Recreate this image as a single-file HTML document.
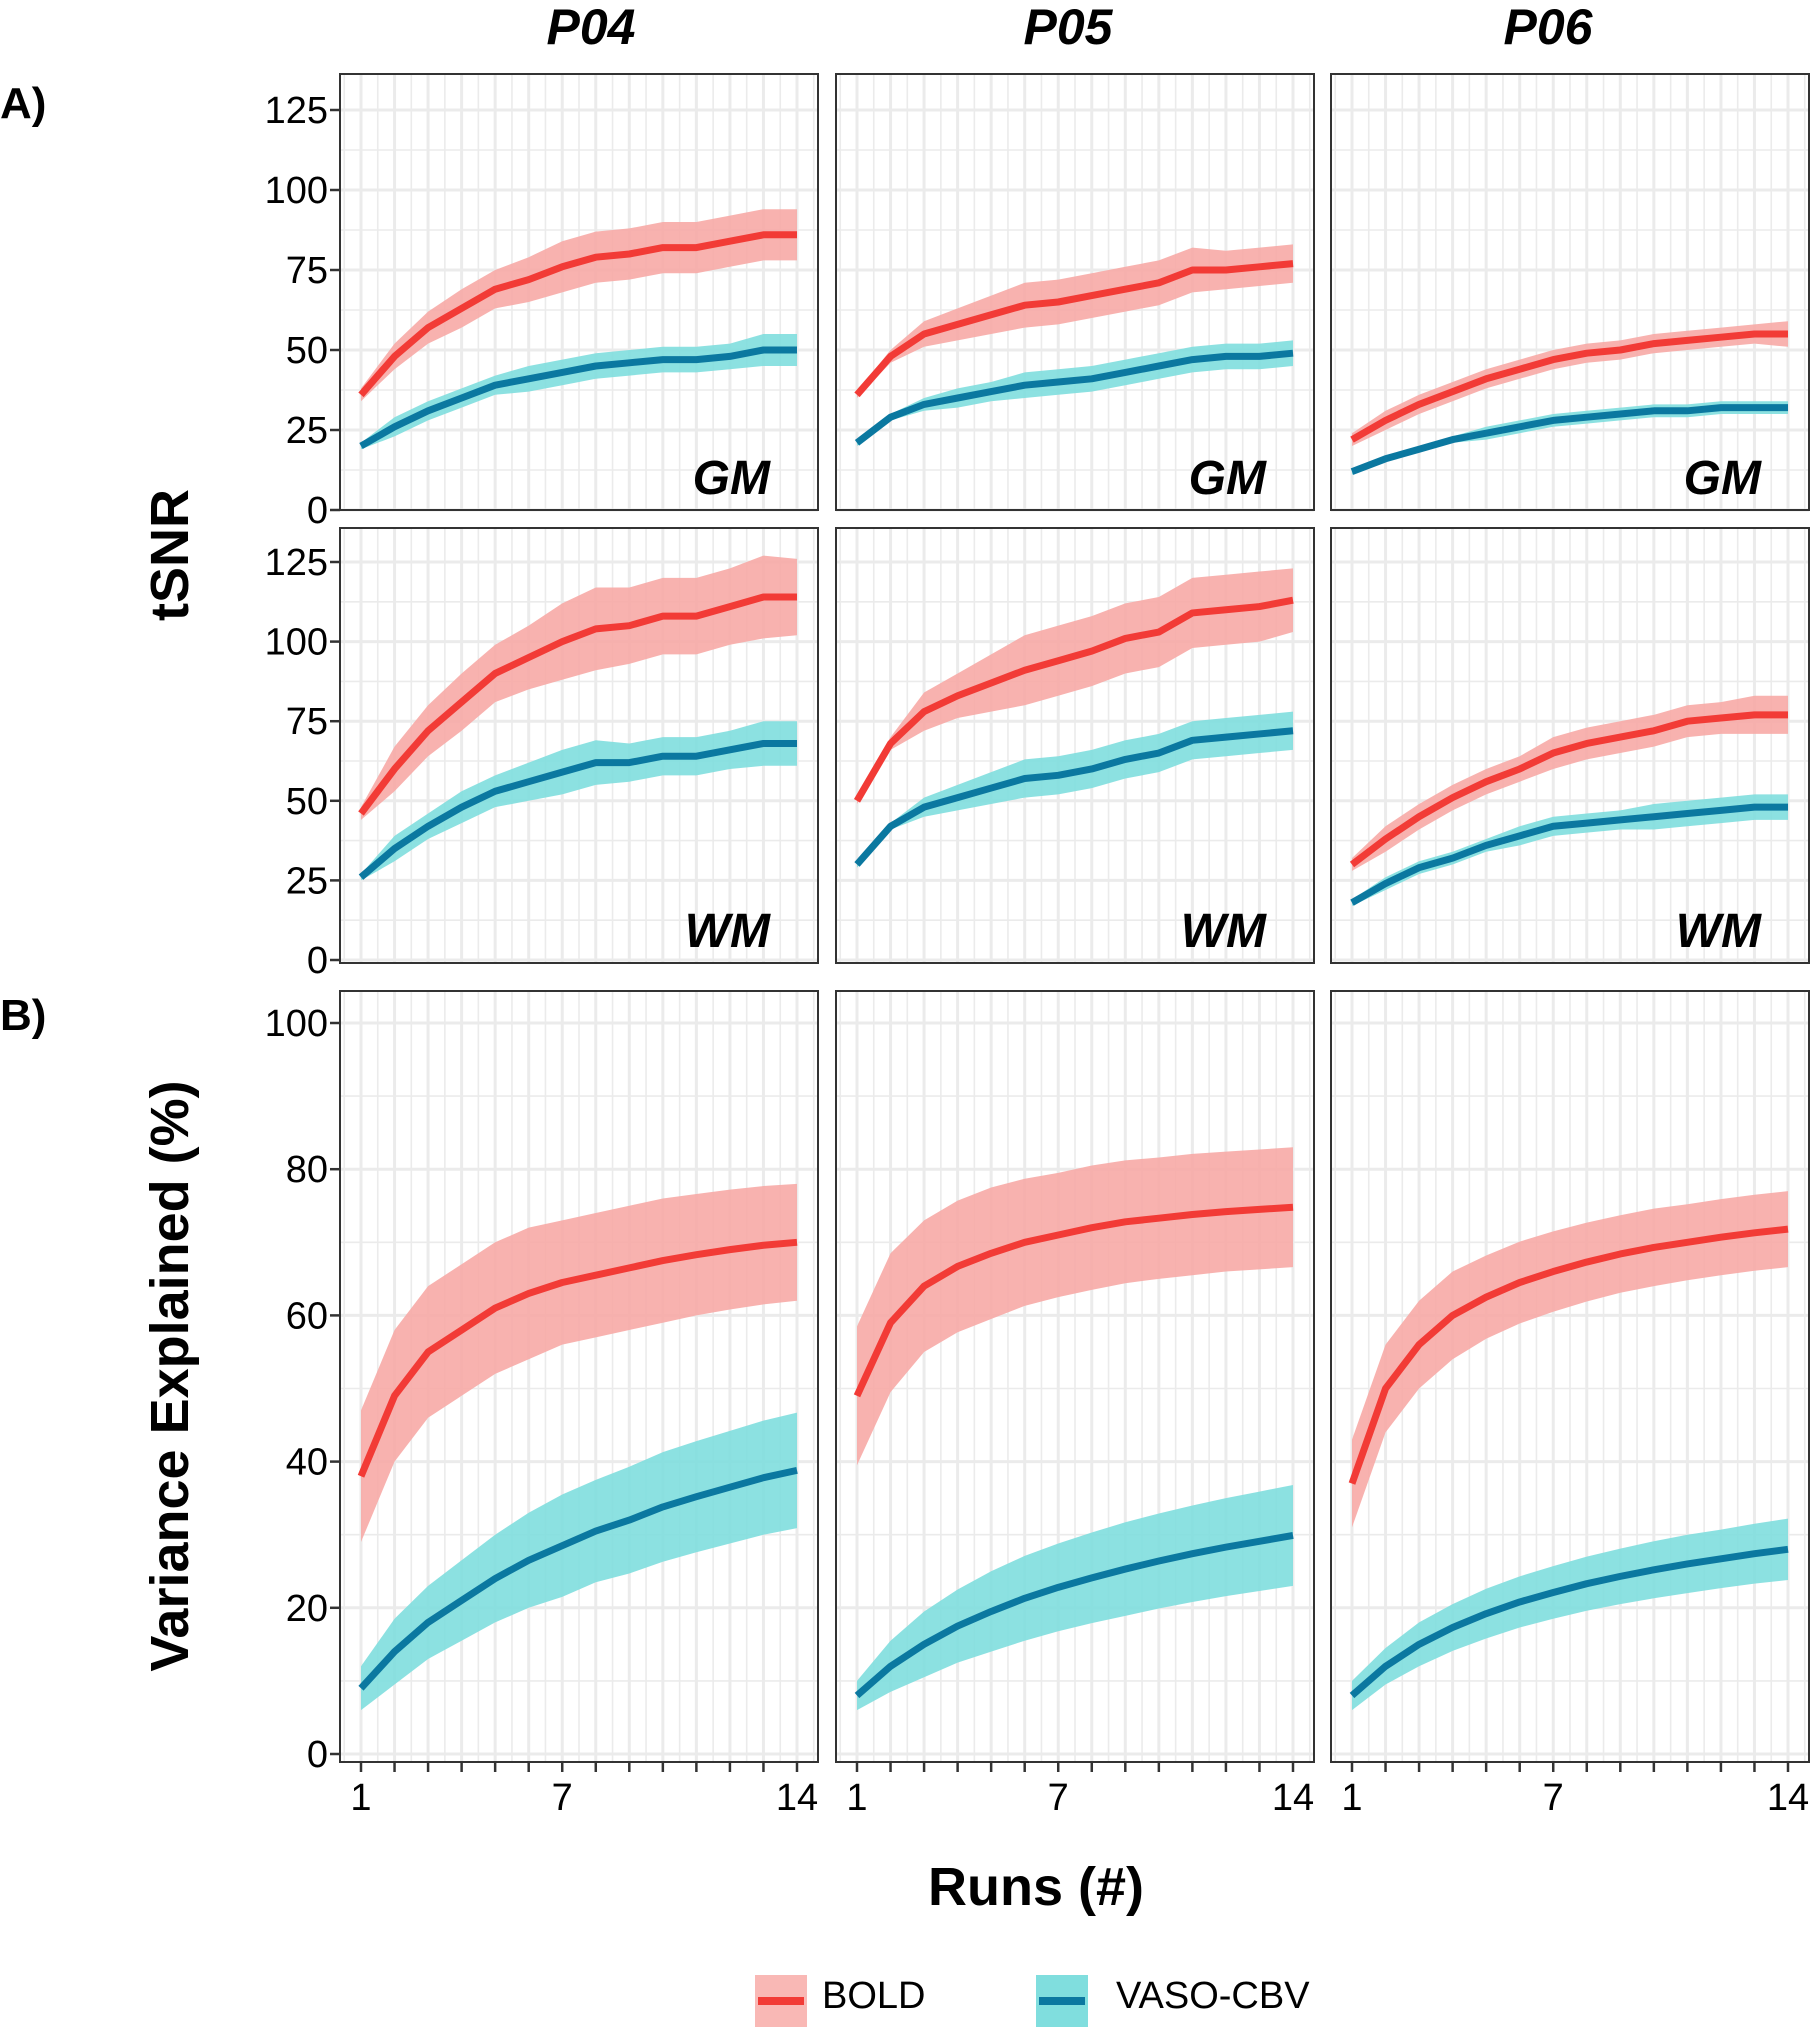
<!DOCTYPE html>
<html><head><meta charset="utf-8"><style>
html,body{margin:0;padding:0;background:#fff;}
svg{display:block;font-family:"Liberation Sans","DejaVu Sans",sans-serif;}
</style></head><body>
<svg id="fig" width="1812" height="2027" viewBox="0 0 1812 2027" xmlns="http://www.w3.org/2000/svg">
<text x="0" y="118" font-size="44" font-weight="bold">A)</text>
<text x="0" y="1030" font-size="44" font-weight="bold">B)</text>
<text x="591" y="44" text-anchor="middle" font-size="50" font-weight="bold" font-style="italic">P04</text>
<text x="1068" y="44" text-anchor="middle" font-size="50" font-weight="bold" font-style="italic">P05</text>
<text x="1548" y="44" text-anchor="middle" font-size="50" font-weight="bold" font-style="italic">P06</text>
<text transform="translate(188,555) rotate(-90)" text-anchor="middle" font-size="54" font-weight="bold">tSNR</text>
<text transform="translate(188,1376) rotate(-90)" text-anchor="middle" font-size="54" font-weight="bold">Variance Explained (%)</text>
<text x="1036" y="1905" text-anchor="middle" font-size="54" font-weight="bold">Runs (#)</text>
<g>
<g>
<rect x="755" y="1975" width="52" height="52" fill="#F9B8B5"/>
<line x1="758" y1="2001" x2="804" y2="2001" stroke="#F23B36" stroke-width="8"/>
<text x="822" y="2008" font-size="38">BOLD</text>
</g>
<g>
<rect x="1036" y="1975" width="52" height="52" fill="#80DEDE"/>
<line x1="1039" y1="2001" x2="1085" y2="2001" stroke="#0B78A0" stroke-width="8"/>
<text x="1116" y="2008" font-size="38">VASO-CBV</text>
</g>
</g>
<g id="plots"></g>
</svg>
<script>
const runs = [1,2,3,4,5,6,7,8,9,10,11,12,13,14];
const subjects = ["P04","P05","P06"];
const tsnrTicks = [0,25,50,75,100,125];
const varTicks = [0,20,40,60,80,100];
const xTickLabels = [1,7,14];
// GM tSNR
const gmBoldP04 = [36,48,57,63,69,72,76,79,80,82,82,84,86,86];
const gmBoldBandP04 = [2,4,5,6,6,7,8,8,8,8,8,8,8,8];
const gmVasoP04 = [20,26,31,35,39,41,43,45,46,47,47,48,50,50];
const gmVasoBandP04 = [1,3,3,3,3,4,4,4,4,4,4,4,5,5];
const gmBoldP05 = [36,48,55,58,61,64,65,67,69,71,75,75,76,77];
const gmBoldBandP05 = [1,2,4,5,6,7,7,7,7,7,7,6,6,6];
const gmVasoP05 = [21,29,33,35,37,39,40,41,43,45,47,48,48,49];
const gmVasoBandP05 = [1,1,2,3,3,4,4,4,4,4,4,4,4,4];
const gmBoldP06 = [22,28,33,37,41,44,47,49,50,52,53,54,55,55];
const gmBoldBandP06 = [2,3,3,3,3,3,3,3,3,3,3,3,3,4];
const gmVasoP06 = [12,16,19,22,24,26,28,29,30,31,31,32,32,32];
const gmVasoBandP06 = [1,1,1,1,2,2,2,2,2,2,2,2,2,2];
// WM tSNR
const wmBoldP04 = [46,60,72,81,90,95,100,104,105,108,108,111,114,114];
const wmBoldBandP04 = [2,7,8,9,9,10,12,13,12,12,12,12,13,12];
const wmVasoP04 = [26,35,42,48,53,56,59,62,62,64,64,66,68,68];
const wmVasoBandP04 = [1,4,4,5,5,6,7,7,6,6,6,6,7,7];
const wmBoldP05 = [50,68,78,83,87,91,94,97,101,103,109,110,111,113];
const wmBoldBandP05 = [1,2,6,7,9,11,11,11,11,11,11,11,11,10];
const wmVasoP05 = [30,42,48,51,54,57,58,60,63,65,69,70,71,72];
const wmVasoBandP05 = [1,1,3,4,5,6,6,6,6,6,6,6,6,6];
const wmBoldP06 = [30,38,45,51,56,60,65,68,70,72,75,76,77,77];
const wmBoldBandP06 = [2,4,4,4,4,4,5,5,5,5,5,5,6,6];
const wmVasoP06 = [18,24,29,32,36,39,42,43,44,45,46,47,48,48];
const wmVasoBandP06 = [1,2,2,2,2,3,3,3,3,4,4,4,4,4];
// Variance explained
const varBoldP04 = [38,49,55,58,61,63,64.5,65.5,66.5,67.5,68.3,69,69.6,70];
const varBoldBandP04 = [9,9,9,9,9,9,8.5,8.5,8.5,8.5,8.3,8.2,8.1,8];
const varVasoP04 = [9,14,18,21,24,26.5,28.5,30.5,32,33.8,35.2,36.5,37.8,38.8];
const varVasoBandP04 = [3,4.5,5,5.5,6,6.5,7,7,7.3,7.5,7.6,7.7,7.8,7.9];
const varBoldP05 = [49,59,64,66.7,68.5,70,71,72,72.8,73.3,73.8,74.2,74.5,74.8];
const varBoldBandP05 = [9.5,9.5,9,9,9,8.7,8.5,8.5,8.4,8.3,8.3,8.2,8.2,8.2];
const varVasoP05 = [8,12,15,17.5,19.5,21.3,22.8,24.1,25.3,26.4,27.4,28.3,29.1,29.9];
const varVasoBandP05 = [2,3.5,4.5,5,5.5,5.8,6,6.2,6.4,6.5,6.6,6.7,6.8,6.9];
const varBoldP06 = [37,50,56,60,62.5,64.5,66,67.3,68.4,69.3,70,70.7,71.3,71.8];
const varBoldBandP06 = [6,6,6,6,5.7,5.6,5.5,5.4,5.3,5.3,5.2,5.2,5.2,5.2];
const varVasoP06 = [8,12,15,17.3,19.2,20.8,22.1,23.3,24.3,25.2,26,26.7,27.4,28];
const varVasoBandP06 = [2,2.5,3,3.2,3.4,3.5,3.6,3.7,3.8,3.9,4,4,4.1,4.2];

const NS = "http://www.w3.org/2000/svg";
const root = document.getElementById("plots");
function mk(tag, attrs, parent){ const e=document.createElementNS(NS,tag); for(const k in attrs) e.setAttribute(k,attrs[k]); (parent||root).appendChild(e); return e; }

const cols = [{x0:340,x1:818},{x0:836,x1:1314},{x0:1331,x1:1809}];
const rowsDef = [
 {y0:74,y1:510,vmax:125,zeroY:510,topY:110,ticks:tsnrTicks,minor:12.5,label:"GM",kind:"gm"},
 {y0:528,y1:963,vmax:125,zeroY:960,topY:562,ticks:tsnrTicks,minor:12.5,label:"WM",kind:"wm"},
 {y0:991,y1:1762,vmax:100,zeroY:1754,topY:1023,ticks:varTicks,minor:10,label:"",kind:"var"}
];
const dataMap = {
 gm:[[gmBoldP04,gmBoldBandP04,gmVasoP04,gmVasoBandP04],[gmBoldP05,gmBoldBandP05,gmVasoP05,gmVasoBandP05],[gmBoldP06,gmBoldBandP06,gmVasoP06,gmVasoBandP06]],
 wm:[[wmBoldP04,wmBoldBandP04,wmVasoP04,wmVasoBandP04],[wmBoldP05,wmBoldBandP05,wmVasoP05,wmVasoBandP05],[wmBoldP06,wmBoldBandP06,wmVasoP06,wmVasoBandP06]],
 var:[[varBoldP04,varBoldBandP04,varVasoP04,varVasoBandP04],[varBoldP05,varBoldBandP05,varVasoP05,varVasoBandP05],[varBoldP06,varBoldBandP06,varVasoP06,varVasoBandP06]]
};

rowsDef.forEach((r,ri)=>{
 cols.forEach((c,ci)=>{
  const g = mk("g",{});
  
  
  const xs = v => c.x0+21 + (v-1)*(c.x1-c.x0-42)/13;
  const ys = v => r.zeroY - v*(r.zeroY-r.topY)/r.vmax;
  mk("rect",{x:c.x0,y:r.y0,width:c.x1-c.x0,height:r.y1-r.y0,fill:"#fff"},g);
  for(let v=0; v<=r.vmax+r.minor; v+=r.minor){ const y=ys(v); if(y<r.y0||y>r.y1) continue;
   const major = Math.abs(v/(r.minor*2)-Math.round(v/(r.minor*2)))<1e-6;
   const gl=mk("line",{x1:c.x0,x2:c.x1,y1:y,y2:y,stroke:"#ebebeb","stroke-width":major?3:1.6},g);
     }
  for(let v=0.5; v<=14.5; v+=0.5){ const x=xs(v); if(x<c.x0||x>c.x1) continue;
   const major = Math.abs(v-Math.round(v))<1e-6;
   const gl=mk("line",{x1:x,x2:x,y1:r.y0,y2:r.y1,stroke:"#ebebeb","stroke-width":major?3:1.6},g);
     }
  const d = dataMap[r.kind][ci];
  const series = [[d[0],d[1],"#F7AAA6","#F23B36","bold"],[d[2],d[3],"#7FDEDE","#0B78A0","vaso"]];
  series.forEach(s=>{
   const m=s[0], b=s[1];
   let pts = runs.map((x,i)=>xs(x)+","+ys(m[i]+b[i]));
   pts = pts.concat(runs.slice().reverse().map((x,k)=>{const i=13-k; return xs(x)+","+ys(m[i]-b[i]);}));
   const band=mk("polygon",{points:pts.join(" "),fill:s[2],"fill-opacity":0.9},g);
    
   const ln=mk("polyline",{points:runs.map((x,i)=>xs(x)+","+ys(m[i])).join(" "),fill:"none",stroke:s[3],"stroke-width":7,"stroke-linejoin":"round"},g);
    
  });
  mk("rect",{x:c.x0,y:r.y0,width:c.x1-c.x0,height:r.y1-r.y0,fill:"none",stroke:"#333","stroke-width":2},g);
  if(r.label){
   const t=mk("text",{x:c.x1-48,y:r.y1-16,"text-anchor":"end","font-size":48,"font-weight":"bold","font-style":"italic"},g);
   t.textContent=r.label;
    
  }
  if(ci===0){
   r.ticks.forEach(v=>{ const y=ys(v);
    mk("line",{x1:c.x0-10,x2:c.x0,y1:y,y2:y,stroke:"#333","stroke-width":2.5},g);
    const t=mk("text",{x:c.x0-12,y:y+13,"text-anchor":"end","font-size":38},g);
    t.textContent=v;   });
  }
  if(r.kind==="var"){
   runs.forEach(v=>mk("line",{x1:xs(v),x2:xs(v),y1:r.y1,y2:r.y1+10,stroke:"#333","stroke-width":2.5},g));
   xTickLabels.forEach(v=>{ const t=mk("text",{x:xs(v),y:1810,"text-anchor":"middle","font-size":38},g);
    t.textContent=v;   });
  }
 });
});
</script>
</body></html>
